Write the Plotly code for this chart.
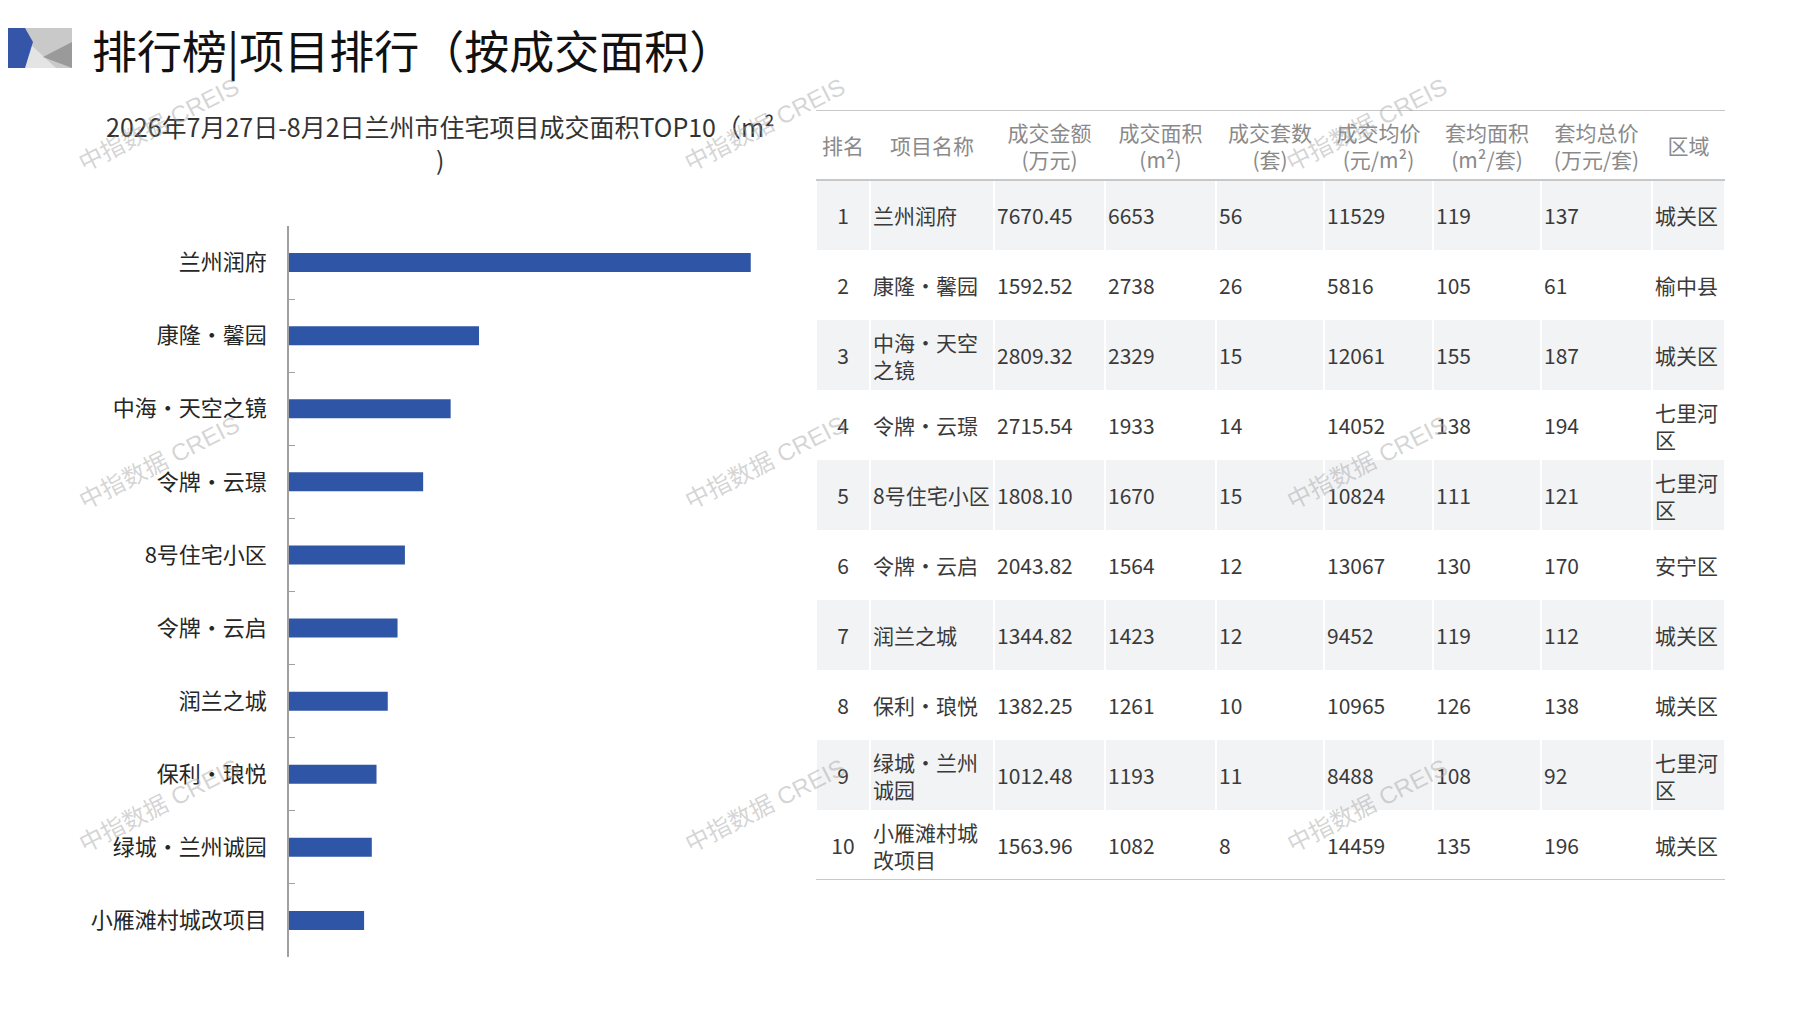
import plotly.graph_objects as go

W, H = 1797, 1010
OFF = 8  # default page margin around the plot div
FW, FH = W - 2 * OFF, H - 2 * OFF

# data
names = ["兰州润府", "康隆·馨园", "中海·天空之镜", "令牌·云璟", "8号住宅小区",
         "令牌·云启", "润兰之城", "保利·琅悦", "绿城·兰州诚园", "小雁滩村城改项目"]
amount = [7670.45, 1592.52, 2809.32, 2715.54, 1808.10, 2043.82, 1344.82, 1382.25, 1012.48, 1563.96]
area = [6653, 2738, 2329, 1933, 1670, 1564, 1423, 1261, 1193, 1082]
units = [56, 26, 15, 14, 15, 12, 12, 10, 11, 8]
price = [11529, 5816, 12061, 14052, 10824, 13067, 9452, 10965, 8488, 14459]
avg_area = [119, 105, 155, 138, 111, 130, 119, 126, 108, 135]
avg_total = [137, 61, 187, 194, 121, 170, 112, 138, 92, 196]
district = ["城关区", "榆中县", "城关区", "七里河区", "七里河区",
            "安宁区", "城关区", "城关区", "七里河区", "城关区"]
headers = ["排名", "项目名称", "成交金额<br>(万元)", "成交面积<br>(m²)", "成交套数<br>(套)",
           "成交均价<br>(元/m²)", "套均面积<br>(m²/套)", "套均总价<br>(万元/套)", "区域"]

title = "排行榜|项目排行（按成交面积）"
chart_title = "2026年7月27日-8月2日兰州市住宅项目成交面积TOP10（m²<br>)"
watermark = "中指数据 CREIS"

FONT = "Noto Sans CJK SC"
BLUE = "#2F56A6"
TXT_DY = 0.06  # nudge table text down a little inside its row


def wrap(s, limit):
    # wrap cjk text by width, ascii counts half
    w = sum(0.5 if ord(c) < 128 else 1 for c in s)
    if w <= limit + 0.5:
        return s
    lines, cur, cw = [], "", 0
    for c in s:
        cc = 0.5 if ord(c) < 128 else 1
        if cw + cc > limit:
            lines.append(cur)
            cur, cw = "", 0
        cur += c
        cw += cc
    lines.append(cur)
    return "<br>".join(lines)


def fx(x):
    return (x - OFF) / FW


def fy(y):
    return 1 - (y - OFF) / FH


fig = go.Figure()

# bar chart
fig.add_trace(go.Bar(x=area, y=names, orientation="h", width=0.26,
                     marker=dict(color=BLUE, line=dict(width=0)),
                     hoverinfo="x+y", xaxis="x", yaxis="y"))

# table
col_w = [54, 124, 111, 111, 108, 109, 108, 111, 73]
edges = [0]
for w in col_w:
    edges.append(edges[-1] + w)
n = len(names)
rows = list(range(n))

shade = [[0] * len(col_w)] + [[1 if i % 2 == 0 else 0] * len(col_w) for i in rows]
fig.add_trace(go.Heatmap(x=edges, y=[-1] + rows, z=shade, zmin=0, zmax=1,
                         colorscale=[[0, "white"], [1, "#F2F3F5"]], showscale=False,
                         xgap=2, hoverinfo="skip", xaxis="x2", yaxis="y2"))

cols = [
    [str(i + 1) for i in rows],
    [wrap(s, 5) for s in names],
    ["%.2f" % v for v in amount],
    [str(v) for v in area],
    [str(v) for v in units],
    [str(v) for v in price],
    [str(v) for v in avg_area],
    [str(v) for v in avg_total],
    [wrap(s, 3) for s in district],
]
for c, vals in enumerate(cols):
    if c == 0:
        xs, pos = [(edges[c] + edges[c + 1]) / 2] * n, "middle center"
    else:
        xs, pos = [edges[c] + 3] * n, "middle right"
    fig.add_trace(go.Scatter(x=xs, y=[r + TXT_DY for r in rows], text=vals, mode="text",
                             textposition=pos,
                             textfont=dict(family=FONT, size=21, color="#3A3A3A"),
                             hoverinfo="skip", xaxis="x2", yaxis="y2"))

fig.add_trace(go.Scatter(x=[(edges[c] + edges[c + 1]) / 2 for c in range(len(col_w))],
                         y=[-1 + TXT_DY] * len(col_w), text=headers, mode="text",
                         textposition="middle center",
                         textfont=dict(family=FONT, size=21, color="#8A8A8A"),
                         hoverinfo="skip", xaxis="x2", yaxis="y2"))

for yv in [-1.5, -0.5, n - 0.5]:
    fig.add_shape(type="line", xref="x2", yref="y2", x0=0, x1=edges[-1], y0=yv, y1=yv,
                  line=dict(color="#C8C8C8", width=2))


# header decoration
def poly(pts, color):
    path = "M " + " L ".join("%f,%f" % (fx(a), fy(b)) for a, b in pts) + " Z"
    fig.add_shape(type="path", xref="paper", yref="paper", path=path,
                  fillcolor=color, line=dict(width=0), layer="above")


poly([(20, 28), (72, 28), (72, 68), (20, 68)], "#C9C9C9")
poly([(28, 42), (56, 68), (22, 68)], "#E4E4E4")
poly([(72, 42), (72, 68), (43, 57)], "#9A9A9A")
poly([(0, 28), (25, 28), (33, 42), (25, 68), (0, 68)], "#3556A8")

fig.add_annotation(x=fx(90), y=fy(50), xref="paper", yref="paper", text=title, showarrow=False,
                   xanchor="left", yanchor="middle",
                   font=dict(family=FONT, size=45, color="#111111"))
fig.add_annotation(x=fx(440), y=fy(143), xref="paper", yref="paper", text=chart_title,
                   showarrow=False, xanchor="center", yanchor="middle",
                   font=dict(family=FONT, size=25, color="#333333"))

for wx in [159, 765, 1367]:
    for wy in [125, 462, 805]:
        fig.add_annotation(x=fx(wx), y=fy(wy), xref="paper", yref="paper", text=watermark,
                           showarrow=False, textangle=-27, xanchor="center", yanchor="middle",
                           font=dict(family="Liberation Sans, " + FONT, size=24,
                                     color="rgba(160,160,160,0.45)"))

fig.update_layout(
    width=FW, height=FH, margin=dict(l=0, r=0, t=0, b=0),
    paper_bgcolor="white", plot_bgcolor="white", showlegend=False,
    xaxis=dict(domain=[fx(289), fx(779)], range=[0, 7060], visible=False, fixedrange=True),
    yaxis=dict(domain=[fy(957), fy(226)], categoryorder="array", categoryarray=names,
               autorange="reversed", showline=True, linecolor="#A0A0A0", linewidth=1.5,
               ticks="inside", tickson="boundaries", ticklen=6, tickcolor="#A0A0A0",
               ticklabelstandoff=16, showgrid=False, zeroline=False,
               tickfont=dict(family=FONT, size=22, color="#262626")),
    xaxis2=dict(domain=[fx(816), fx(1725)], range=[0, edges[-1]], visible=False,
                anchor="y2", fixedrange=True),
    yaxis2=dict(domain=[fy(880), fy(110)], range=[n - 0.5, -1.5], visible=False,
                anchor="x2", fixedrange=True),
)

fig.write_html("out.html")
